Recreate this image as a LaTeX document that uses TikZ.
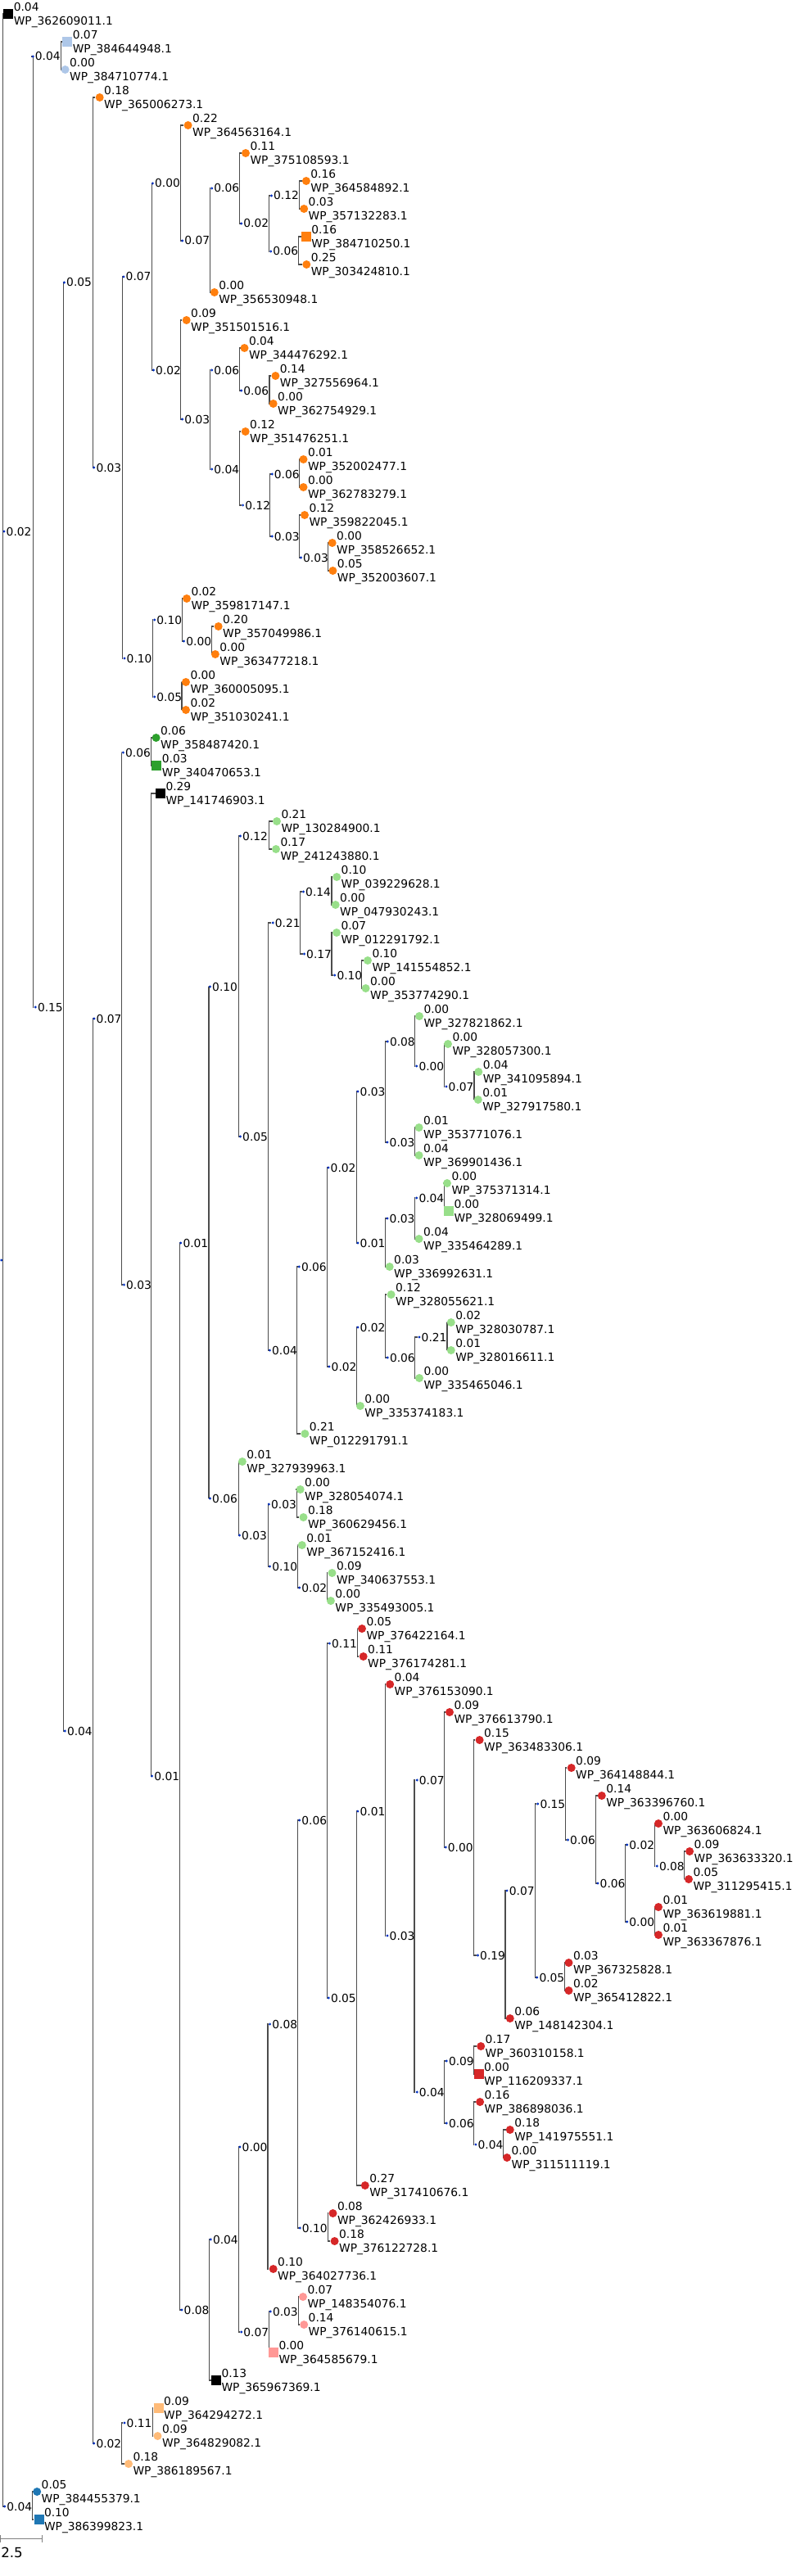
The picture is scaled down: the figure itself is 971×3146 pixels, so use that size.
\documentclass[tikz,border=0pt]{standalone}
\usepackage{fontspec}
\setmainfont{DejaVu Sans}
\usetikzlibrary{calc,backgrounds}
\definecolor{lblue}{HTML}{AEC7E8}
\definecolor{orng}{HTML}{FF7F0E}
\definecolor{dgreen}{HTML}{2CA02C}
\definecolor{lgreen}{HTML}{98DF8A}
\definecolor{tred}{HTML}{D62728}
\definecolor{pnk}{HTML}{FF9896}
\definecolor{lorng}{HTML}{FFBB78}
\definecolor{tblue}{HTML}{1F77B4}
\definecolor{ndblue}{HTML}{0030C1}
\tikzset{
  branch/.style={draw=black!70, line width=0.85pt},
  ndot/.style={circle, fill=ndblue, inner sep=0pt, minimum size=2.4pt},
  leafdot/.style={circle, inner sep=0pt, minimum size=7.5pt},
  leafbox/.style={rectangle, inner sep=0pt, minimum size=9pt},
  lab/.style={inner sep=0pt, anchor=base west, font=\fontsize{10.35}{12}\selectfont},
  scalebar/.style={draw=gray, line width=0.75pt}
}

\begin{document}
\begin{tikzpicture}[x=0.75pt, y=-0.75pt]
  \useasboundingbox (0,0) rectangle (971,3146);

  % leaves: index/x/shape/colour/value/accession
  \foreach \i/\x/\s/\c/\b/\id in {
    1/10.3/leafbox/black/0.04/362609011, 2/82.3/leafbox/lblue/0.07/384644948,
    3/79.6/leafdot/lblue/0.00/384710774, 4/121.7/leafdot/orng/0.18/365006273,
    5/229.6/leafdot/orng/0.22/364563164, 6/300/leafdot/orng/0.11/375108593,
    7/373.9/leafdot/orng/0.16/364584892, 8/371.2/leafdot/orng/0.03/357132283,
    9/373.9/leafbox/orng/0.16/384710250, 10/374.3/leafdot/orng/0.25/303424810,
    11/261.8/leafdot/orng/0.00/356530948, 12/227.7/leafdot/orng/0.09/351501516,
    13/298.5/leafdot/orng/0.04/344476292, 14/336.4/leafdot/orng/0.14/327556964,
    15/333.7/leafdot/orng/0.00/362754929, 16/299.7/leafdot/orng/0.12/351476251,
    17/370.5/leafdot/orng/0.01/352002477, 18/370.5/leafdot/orng/0.00/362783279,
    19/372/leafdot/orng/0.12/359822045, 20/405.7/leafdot/orng/0.00/358526652,
    21/406.4/leafdot/orng/0.05/352003607, 22/228/leafdot/orng/0.02/359817147,
    23/266.7/leafdot/orng/0.20/357049986, 24/262.9/leafdot/orng/0.00/363477218,
    25/227/leafdot/orng/0.00/360005095, 26/227/leafdot/orng/0.02/351030241,
    27/190.6/leafdot/dgreen/0.06/358487420, 28/191.4/leafbox/dgreen/0.03/340470653,
    29/196/leafbox/black/0.29/141746903, 30/338/leafdot/lgreen/0.21/130284900,
    31/337/leafdot/lgreen/0.17/241243880, 32/411.2/leafdot/lgreen/0.10/039229628,
    33/409.7/leafdot/lgreen/0.00/047930243, 34/411/leafdot/lgreen/0.07/012291792,
    35/449/leafdot/lgreen/0.10/141554852, 36/446.6/leafdot/lgreen/0.00/353774290,
    37/512/leafdot/lgreen/0.00/327821862, 38/547/leafdot/lgreen/0.00/328057300,
    39/584.3/leafdot/lgreen/0.04/341095894, 40/583.8/leafdot/lgreen/0.01/327917580,
    41/511.6/leafdot/lgreen/0.01/353771076, 42/511.6/leafdot/lgreen/0.04/369901436,
    43/546/leafdot/lgreen/0.00/375371314, 44/548/leafbox/lgreen/0.00/328069499,
    45/511.6/leafdot/lgreen/0.04/335464289, 46/475.7/leafdot/lgreen/0.03/336992631,
    47/477.6/leafdot/lgreen/0.12/328055621, 48/550.8/leafdot/lgreen/0.02/328030787,
    49/550.8/leafdot/lgreen/0.01/328016611, 50/512/leafdot/lgreen/0.00/335465046,
    51/439.9/leafdot/lgreen/0.00/335374183, 52/372.4/leafdot/lgreen/0.21/012291791,
    53/295.9/leafdot/lgreen/0.01/327939963, 54/366.7/leafdot/lgreen/0.00/328054074,
    55/370.5/leafdot/lgreen/0.18/360629456, 56/368.8/leafdot/lgreen/0.01/367152416,
    57/405.5/leafdot/lgreen/0.09/340637553, 58/403.9/leafdot/lgreen/0.00/335493005,
    59/442/leafdot/tred/0.05/376422164, 60/443.7/leafdot/tred/0.11/376174281,
    61/476.2/leafdot/tred/0.04/376153090, 62/549/leafdot/tred/0.09/376613790,
    63/585.6/leafdot/tred/0.15/363483306, 64/697.7/leafdot/tred/0.09/364148844,
    65/734.8/leafdot/tred/0.14/363396760, 66/804/leafdot/tred/0.00/363606824,
    67/842.1/leafdot/tred/0.09/363633320, 68/841/leafdot/tred/0.05/311295415,
    69/804/leafdot/tred/0.01/363619881, 70/804/leafdot/tred/0.01/363367876,
    71/694.5/leafdot/tred/0.03/367325828, 72/694.5/leafdot/tred/0.02/365412822,
    73/622.8/leafdot/tred/0.06/148142304, 74/587.2/leafdot/tred/0.17/360310158,
    75/584.6/leafbox/tred/0.00/116209337, 76/586.1/leafdot/tred/0.16/386898036,
    77/622.8/leafdot/tred/0.18/141975551, 78/619.1/leafdot/tred/0.00/311511119,
    79/445.8/leafdot/tred/0.27/317410676, 80/406.5/leafdot/tred/0.08/362426933,
    81/408.6/leafdot/tred/0.18/376122728, 82/333.7/leafdot/tred/0.10/364027736,
    83/370/leafdot/pnk/0.07/148354076, 84/371.2/leafdot/pnk/0.14/376140615,
    85/334/leafbox/pnk/0.00/364585679, 86/264/leafbox/black/0.13/365967369,
    87/193.6/leafbox/lorng/0.09/364294272, 88/192.5/leafdot/lorng/0.09/364829082,
    89/157/leafdot/lorng/0.18/386189567, 90/45.2/leafdot/tblue/0.05/384455379,
    91/47.5/leafbox/tblue/0.10/386399823}{
    \node[\s, fill=\c] (L\i) at (\x,{17+34*(\i-1)}) {};
    \node[lab] (S\i) at ($(L\i.east)+(0,-3.7)$) {\b};
    \node[lab] (T\i) at ($(L\i.east)+(0,13.3)$) {WP\_\id.1};
  }

  % inner nodes
  \node[ndot] (i0) at (1.7,1539) {};
  \foreach \n/\x/\y/\b in {
    i1/5.0/649/0.02, i2/40.2/69/0.04, i3/43.3/1230/0.15, i4/78.5/345/0.05,
    i5/114.8/571/0.03, i6/151/338/0.07, i7/186.4/224/0.00, i8/222.7/294/0.07,
    i9/258.7/230/0.06, i10/294.7/273/0.02, i11/331.4/239/0.12, i12/330.7/307/0.06,
    i13/187.5/452/0.02, i14/222.7/512/0.03, i15/258.7/452/0.06, i16/294.7/477/0.06,
    i17/258.7/573/0.04, i18/296.6/617/0.12, i19/332.2/579/0.06, i20/332.2/655/0.03,
    i21/367.4/681/0.03, i22/152/804/0.10, i23/188.7/757/0.10, i24/224.6/783/0.00,
    i25/188.7/851/0.05, i26/79.3/2114/0.04, i27/115/1244/0.07, i28/150.4/919/0.06,
    i29/151.4/1569/0.03, i30/185.6/2169/0.01, i31/220.8/1518/0.01, i32/256.5/1205/0.10,
    i33/293.5/1021/0.12, i34/293.5/1388/0.05, i35/333.2/1127/0.21, i36/370.5/1089/0.14,
    i37/371.5/1165/0.17, i38/408.8/1191/0.10, i39/329.4/1649/0.04, i40/365.3/1547/0.06,
    i41/401/1426/0.02, i42/437/1333/0.03, i43/473.3/1272/0.08, i44/508.8/1302/0.00,
    i45/545/1327/0.07, i46/473/1395/0.03, i47/437/1518/0.01, i48/473/1488/0.03,
    i49/508.8/1463/0.04, i50/402/1669/0.02, i51/437/1621/0.02, i52/473.3/1658/0.06,
    i53/512/1633/0.21, i54/256.5/1830/0.06, i55/292.5/1875/0.03, i56/328.4/1837/0.03,
    i57/329.6/1913/0.10, i58/365.7/1939/0.02, i59/222/2821/0.08, i60/257.3/2735/0.04,
    i61/293/2622/0.00, i62/329.6/2472/0.08, i63/365.7/2223/0.06, i64/402.4/2007/0.11,
    i65/401.3/2440/0.05, i66/436.9/2212/0.01, i67/473/2364/0.03, i68/509.2/2174/0.07,
    i69/544.2/2256/0.00, i70/583.5/2388/0.19, i71/619.1/2309/0.07, i72/656.8/2203/0.15,
    i73/693.5/2247/0.06, i74/730/2300/0.06, i75/765.7/2253/0.02, i76/802.3/2279/0.08,
    i77/765.7/2347/0.00, i78/655.8/2415/0.05, i79/509.2/2555/0.04, i80/545.3/2517/0.09,
    i81/545.3/2593/0.06, i82/580.9/2619/0.04, i83/366.2/2721/0.10, i84/294.7/2848/0.07,
    i85/330.3/2823/0.03, i86/114.8/2984/0.02, i87/152/2959/0.11, i88/5.7/3061/0.04}{
    \node[ndot] (\n) at (\x,\y) {};
    \node[lab] (t\n) at ($(\n.east)+(0.6,5)$) {\b};
  }

  % branches: parent/vertical x/first child/last child
  \begin{scope}[on background layer]
  \foreach \p/\v/\a/\z in {
    i0/3.8/L1/i88, i1/40.2/i2/i3, i2/74.6/L2/L3, i3/77.3/i4/i26, i4/113.3/L4/i5,
    i5/149.3/i6/i22, i6/185.6/i7/i13, i7/220.8/L5/i8, i8/256.4/i9/L11, i9/292.8/L6/i10,
    i10/328.4/i11/i12, i11/365.5/L7/L8, i12/364.3/L9/L10, i13/220.8/L12/i14,
    i14/256.4/i15/i17, i15/292.8/L13/i16, i16/329/L14/L15, i17/292.8/L16/i18,
    i18/329.9/i19/i20, i19/365.5/L17/L18, i20/365.5/L19/i21, i21/400.7/L20/L21,
    i22/186.4/i23/i25, i23/222.7/L22/i24, i24/258.3/L23/L24, i25/222/L25/L26,
    i26/113.3/i27/i86, i27/148.6/i28/i29, i28/184.8/L27/L28, i29/184.5/L29/i30,
    i30/219.5/i31/i59, i31/255/i32/i54, i32/291.6/i33/i34, i33/328.4/L30/L31,
    i34/327.5/i35/i39, i35/366.7/i36/i37, i36/405/L32/L33, i37/405/L34/i38,
    i38/441.8/L35/L36, i39/362.9/i40/L52, i40/399.7/i41/i50, i41/435.6/i42/i47,
    i42/470.5/i43/i46, i43/506.4/L37/i44, i44/542.2/L38/i45, i45/579/L39/L40,
    i46/506.4/L41/L42, i47/470.5/i48/L46, i48/506.4/i49/L45, i49/542.2/L43/L44,
    i50/435.6/i51/L51, i51/470.5/L47/i52, i52/506.4/i53/L50, i53/546/L48/L49,
    i54/291.6/L53/i55, i55/327.5/i56/i57, i56/362.9/L54/L55, i57/363.6/L56/i58,
    i58/399.2/L57/L58, i59/255.6/i60/L86, i60/291.4/i61/i84, i61/327/i62/L82,
    i62/363.6/i63/i83, i63/399.2/i64/i65, i64/436.9/L59/L60, i65/435.3/i66/L79,
    i66/470.4/L61/i67, i67/506/i68/i79, i68/542.7/L62/i69, i69/578.3/L63/i70,
    i70/617/i71/L73, i71/653.7/i72/i78, i72/690.8/L64/i73, i73/727.5/L65/i74,
    i74/763.6/i75/i77, i75/799.2/L66/i76, i76/835.9/L67/L68, i77/799.2/L69/L70,
    i78/689.3/L71/L72, i79/542.7/i80/i81, i80/578.3/L74/L75, i81/578.3/L76/i82,
    i82/614.9/L77/L78, i83/400.3/L80/L81, i84/328.4/i85/L85, i85/364.3/L83/L84,
    i86/148.5/i87/L89, i87/186.4/L87/L88, i88/39.8/L90/L91}{
    \coordinate (v\p) at (\v,0);
    \draw[branch] (\a.west) -- (\a.west -| v\p) -- (\z.west -| v\p) -- (\z.west);
  }
  \draw[branch] (i1.west) -- (i1.west -| vi0);
  \end{scope}

  % scale
  \draw[scalebar] (0.5,3096) -- (0.5,3105) (0.5,3100) -- (51,3100) (51,3096) -- (51,3105);
  \node[lab, font=\fontsize{12.5}{14}\selectfont] (scl) at (1,3123) {2.5};
\end{tikzpicture}
\end{document}
